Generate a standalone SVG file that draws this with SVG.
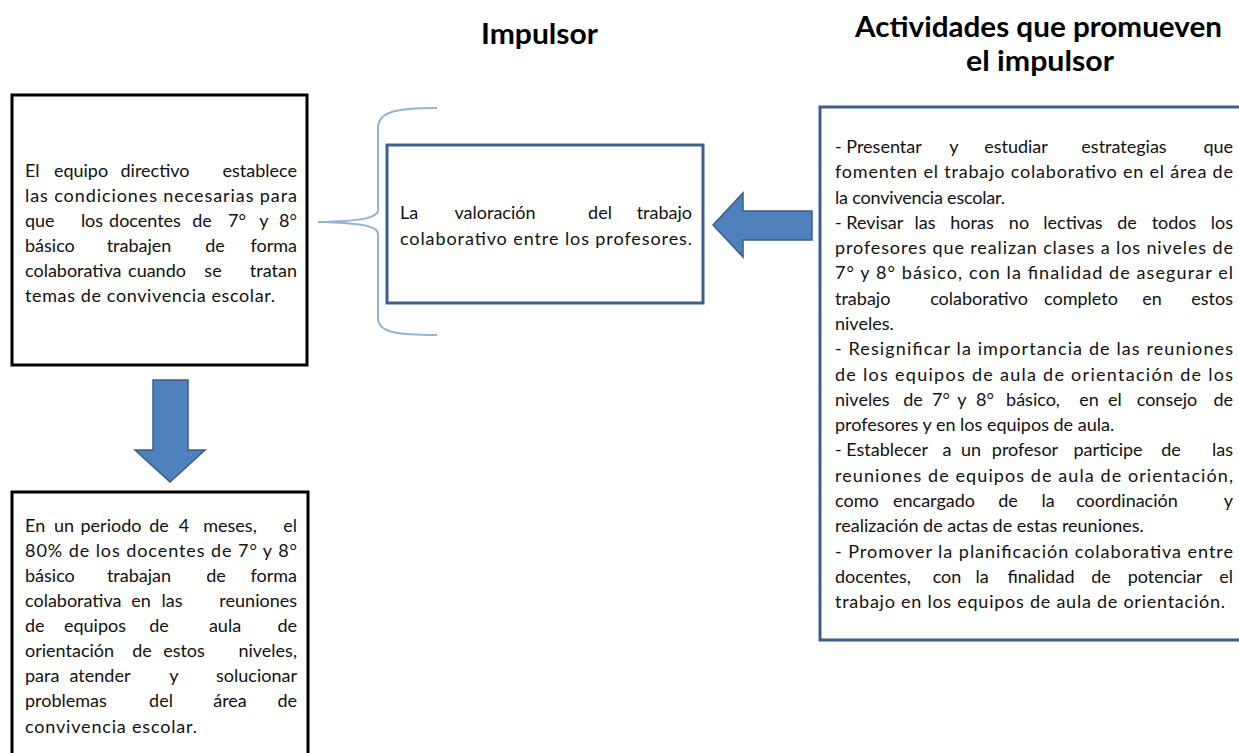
<svg xmlns="http://www.w3.org/2000/svg" width="1239" height="753" viewBox="0 0 1239 753">
<style>
.t{font-family:Lato,"Liberation Sans",sans-serif;font-size:18px;fill:#111}
.e{text-anchor:end}
.m{text-anchor:middle}
.h{font-family:Lato,"Liberation Sans",sans-serif;font-size:28px;font-weight:bold;fill:#000}
.bk{fill:#fff;stroke:#000;stroke-width:3}
.bl{fill:#fff;stroke:#3D5F8C;stroke-width:3}
.arr{fill:#4F81BD;stroke:#385D8A;stroke-width:1.5;stroke-linejoin:miter}
.brace{fill:none;stroke:#95B3D7;stroke-width:2}
</style>
<rect width="1239" height="753" fill="#fff"/>

<g id="titles">
<text class="h" x="481" y="44" textLength="117" lengthAdjust="spacingAndGlyphs">Impulsor</text>
<text class="h" x="855" y="37" textLength="367" lengthAdjust="spacingAndGlyphs">Actividades que promueven</text>
<text class="h" x="966" y="71" textLength="148" lengthAdjust="spacingAndGlyphs">el impulsor</text>
</g>

<g id="connectors">
<path class="brace" d="M437,108 C395,108 378,112 378,128 L378,210 C378,218 362,221 318,222 C362,223 378,226 378,234 L378,318 C378,332 395,335 437,335"/>
<polygon class="arr" points="713,225 743,193 743,211 812,211 812,240 743,240 743,257"/>
<polygon class="arr" points="153,380 188,380 188,450 205,450 170,482 135,450 153,450"/>
</g>

<g id="node-equipo">
<rect class="bk" x="12" y="95" width="295" height="270"/>
<text class="t" y="177"><tspan x="25">El</tspan><tspan class="m" x="81">equipo</tspan><tspan class="m" x="155">directivo</tspan><tspan class="e" x="297">establece</tspan></text>
<text class="t" x="25" y="202" textLength="272" lengthAdjust="spacing">las condiciones necesarias para</text>
<text class="t" y="227"><tspan x="25">que</tspan><tspan class="m" x="92">los</tspan><tspan class="m" x="145">docentes</tspan><tspan class="m" x="202">de</tspan><tspan class="m" x="237">7°</tspan><tspan class="m" x="264">y</tspan><tspan class="e" x="297">8°</tspan></text>
<text class="t" y="252"><tspan x="25">básico</tspan><tspan class="m" x="139">trabajen</tspan><tspan class="m" x="215">de</tspan><tspan class="e" x="297">forma</tspan></text>
<text class="t" y="277"><tspan x="25">colaborativa</tspan><tspan class="m" x="157">cuando</tspan><tspan class="m" x="213">se</tspan><tspan class="e" x="297">tratan</tspan></text>
<text class="t" x="25" y="302" textLength="250" lengthAdjust="spacing">temas de convivencia escolar.</text>
</g>

<g id="node-impulsor">
<rect class="bl" x="387" y="145" width="316" height="158"/>
<text class="t" y="219"><tspan x="400">La</tspan><tspan class="m" x="495">valoración</tspan><tspan class="m" x="600">del</tspan><tspan class="e" x="692">trabajo</tspan></text>
<text class="t" x="400" y="245" textLength="292" lengthAdjust="spacing">colaborativo entre los profesores.</text>
</g>

<g id="node-meta">
<rect class="bk" x="12" y="492" width="296" height="300"/>
<text class="t" y="532"><tspan x="25">En</tspan><tspan class="m" x="64">un</tspan><tspan class="m" x="111">periodo</tspan><tspan class="m" x="159">de</tspan><tspan class="m" x="184">4</tspan><tspan class="m" x="230">meses,</tspan><tspan class="e" x="297">el</tspan></text>
<text class="t" x="25" y="557" textLength="272" lengthAdjust="spacing">80% de los docentes de 7° y 8°</text>
<text class="t" y="582"><tspan x="25">básico</tspan><tspan class="m" x="139">trabajan</tspan><tspan class="m" x="216">de</tspan><tspan class="e" x="297">forma</tspan></text>
<text class="t" y="607"><tspan x="25">colaborativa</tspan><tspan class="m" x="141">en</tspan><tspan class="m" x="172">las</tspan><tspan class="e" x="297">reuniones</tspan></text>
<text class="t" y="632"><tspan x="25">de</tspan><tspan class="m" x="95">equipos</tspan><tspan class="m" x="159">de</tspan><tspan class="m" x="225">aula</tspan><tspan class="e" x="297">de</tspan></text>
<text class="t" y="657"><tspan x="25">orientación</tspan><tspan class="m" x="142">de</tspan><tspan class="m" x="184">estos</tspan><tspan class="e" x="297">niveles,</tspan></text>
<text class="t" y="682"><tspan x="25">para</tspan><tspan class="m" x="100">atender</tspan><tspan class="m" x="174">y</tspan><tspan class="e" x="297">solucionar</tspan></text>
<text class="t" y="707"><tspan x="25">problemas</tspan><tspan class="m" x="161">del</tspan><tspan class="m" x="230">área</tspan><tspan class="e" x="297">de</tspan></text>
<text class="t" x="25" y="733" textLength="172" lengthAdjust="spacing">convivencia escolar.</text>
</g>

<g id="node-actividades">
<rect class="bl" x="820" y="107" width="430" height="533"/>
<text class="t" y="153"><tspan x="835">- Presentar</tspan><tspan class="m" x="954">y</tspan><tspan class="m" x="1016">estudiar</tspan><tspan class="m" x="1124">estrategias</tspan><tspan class="e" x="1233">que</tspan></text>
<text class="t" x="835" y="178.3" textLength="398" lengthAdjust="spacing">fomenten el trabajo colaborativo en el área de</text>
<text class="t" x="835" y="203.6" textLength="170" lengthAdjust="spacing">la convivencia escolar.</text>
<text class="t" y="228.8"><tspan x="835">- Revisar</tspan><tspan class="m" x="925">las</tspan><tspan class="m" x="972">horas</tspan><tspan class="m" x="1019">no</tspan><tspan class="m" x="1073">lectivas</tspan><tspan class="m" x="1127">de</tspan><tspan class="m" x="1174">todos</tspan><tspan class="e" x="1233">los</tspan></text>
<text class="t" x="835" y="254.1" textLength="398" lengthAdjust="spacing">profesores que realizan clases a los niveles de</text>
<text class="t" x="835" y="279.4" textLength="398" lengthAdjust="spacing">7° y 8° básico, con la finalidad de asegurar el</text>
<text class="t" y="304.7"><tspan x="835">trabajo</tspan><tspan class="m" x="979">colaborativo</tspan><tspan class="m" x="1081">completo</tspan><tspan class="m" x="1152">en</tspan><tspan class="e" x="1233">estos</tspan></text>
<text class="t" x="835" y="330">niveles.</text>
<text class="t" x="835" y="355.2" textLength="398" lengthAdjust="spacing">- Resignificar la importancia de las reuniones</text>
<text class="t" x="835" y="380.5" textLength="398" lengthAdjust="spacing">de los equipos de aula  de orientación de los</text>
<text class="t" y="405.8"><tspan x="835">niveles</tspan><tspan class="m" x="913">de</tspan><tspan class="m" x="941">7°</tspan><tspan class="m" x="962">y</tspan><tspan class="m" x="985">8°</tspan><tspan class="m" x="1033">básico,</tspan><tspan class="m" x="1089">en</tspan><tspan class="m" x="1115">el</tspan><tspan class="m" x="1167">consejo</tspan><tspan class="e" x="1233">de</tspan></text>
<text class="t" x="835" y="431.1">profesores  y en los equipos de aula.</text>
<text class="t" y="456.4"><tspan x="835">- Establecer</tspan><tspan class="m" x="947">a</tspan><tspan class="m" x="971">un</tspan><tspan class="m" x="1025">profesor</tspan><tspan class="m" x="1108">participe</tspan><tspan class="m" x="1171">de</tspan><tspan class="e" x="1233">las</tspan></text>
<text class="t" x="835" y="481.6" textLength="398" lengthAdjust="spacing">reuniones de equipos de aula de orientación,</text>
<text class="t" y="506.9"><tspan x="835">como</tspan><tspan class="m" x="934">encargado</tspan><tspan class="m" x="1008">de</tspan><tspan class="m" x="1048">la</tspan><tspan class="m" x="1127">coordinación</tspan><tspan class="e" x="1233">y</tspan></text>
<text class="t" x="835" y="532.2">realización de actas de estas reuniones.</text>
<text class="t" x="835" y="557.5" textLength="398" lengthAdjust="spacing">- Promover la planificación colaborativa entre</text>
<text class="t" y="582.8"><tspan x="835">docentes,</tspan><tspan class="m" x="947">con</tspan><tspan class="m" x="982">la</tspan><tspan class="m" x="1041">finalidad</tspan><tspan class="m" x="1101">de</tspan><tspan class="m" x="1165">potenciar</tspan><tspan class="e" x="1233">el</tspan></text>
<text class="t" x="835" y="608" textLength="390" lengthAdjust="spacing">trabajo en los equipos de aula de orientación.</text>
</g>
</svg>
